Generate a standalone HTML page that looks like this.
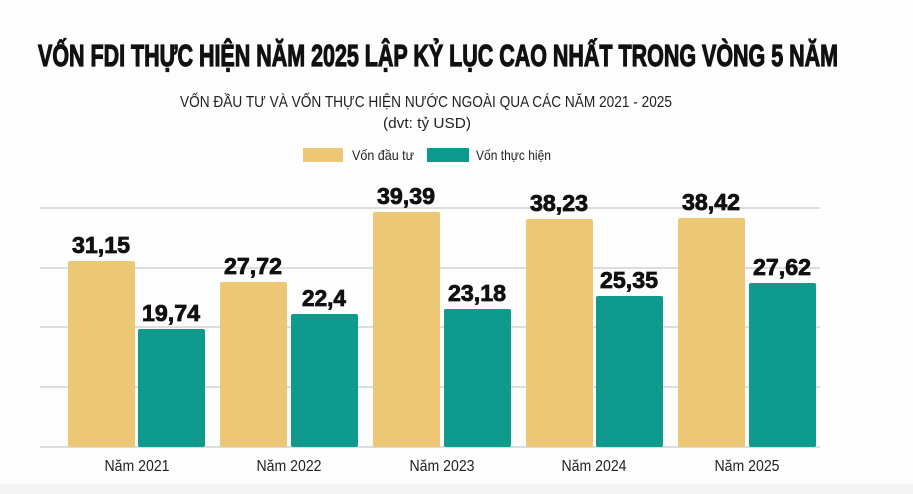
<!DOCTYPE html>
<html><head><meta charset="utf-8"><style>
html,body{margin:0;padding:0;background:#fff;}
svg{display:block;}
text{font-family:"Liberation Sans Narrow","Liberation Sans",sans-serif;}
</style></head><body>
<svg width="913" height="494" viewBox="0 0 913 494" xmlns="http://www.w3.org/2000/svg">
<rect width="913" height="494" fill="#fdfdfd"/>
<rect y="484" width="913" height="10" fill="#f4f4f4"/>
<text x="38" y="66" font-size="31" font-weight="bold" fill="#111" textLength="800" lengthAdjust="spacingAndGlyphs" stroke="#111" stroke-width="1.2">VỐN FDI THỰC HIỆN NĂM 2025 LẬP KỶ LỤC CAO NHẤT TRONG VÒNG 5 NĂM</text>
<text x="180" y="107" font-size="16" fill="#222" textLength="492" lengthAdjust="spacingAndGlyphs">VỐN ĐẦU TƯ VÀ VỐN THỰC HIỆN NƯỚC NGOÀI QUA CÁC NĂM 2021 - 2025</text>
<text x="383" y="128" font-size="15" fill="#222" textLength="88" lengthAdjust="spacingAndGlyphs">(dvt: tỷ USD)</text>
<rect x="303" y="148" width="40" height="14" fill="#ecc876"/>
<text x="352" y="160" font-size="14" fill="#222" textLength="62" lengthAdjust="spacingAndGlyphs">Vốn đầu tư</text>
<rect x="427" y="148" width="42" height="14" fill="#0f9a8e"/>
<text x="476" y="160" font-size="14" fill="#222" textLength="75" lengthAdjust="spacingAndGlyphs">Vốn thực hiện</text>
<g stroke="#cfd3d8" stroke-width="1.5">
<line x1="40" y1="208" x2="820" y2="208"/>
<line x1="40" y1="268" x2="820" y2="268"/>
<line x1="40" y1="327" x2="820" y2="327"/>
<line x1="40" y1="387" x2="820" y2="387"/>
<line x1="40" y1="447" x2="820" y2="447"/>
</g>
<g fill="#ecc876">
<rect x="68" y="261" width="67" height="186" rx="2"/>
<rect x="220" y="282" width="67" height="165" rx="2"/>
<rect x="373" y="212" width="67" height="235" rx="2"/>
<rect x="526" y="219" width="67" height="228" rx="2"/>
<rect x="678" y="218" width="67" height="229" rx="2"/>
</g>
<g fill="#0f9a8e">
<rect x="138" y="329" width="67" height="118" rx="2"/>
<rect x="291" y="314" width="67" height="133" rx="2"/>
<rect x="444" y="309" width="67" height="138" rx="2"/>
<rect x="596" y="296" width="67" height="151" rx="2"/>
<rect x="749" y="283" width="67" height="164" rx="2"/>
</g>
<g font-size="23" font-weight="bold" fill="#111" text-anchor="middle" stroke="#111" stroke-width="0.8" lengthAdjust="spacingAndGlyphs">
<text x="101" y="253" textLength="58" lengthAdjust="spacingAndGlyphs">31,15</text>
<text x="171" y="321" textLength="58" lengthAdjust="spacingAndGlyphs">19,74</text>
<text x="253" y="274" textLength="58" lengthAdjust="spacingAndGlyphs">27,72</text>
<text x="324" y="306" textLength="44" lengthAdjust="spacingAndGlyphs">22,4</text>
<text x="406" y="204" textLength="58" lengthAdjust="spacingAndGlyphs">39,39</text>
<text x="477" y="301" textLength="58" lengthAdjust="spacingAndGlyphs">23,18</text>
<text x="559" y="211" textLength="58" lengthAdjust="spacingAndGlyphs">38,23</text>
<text x="629" y="288" textLength="58" lengthAdjust="spacingAndGlyphs">25,35</text>
<text x="711" y="210" textLength="58" lengthAdjust="spacingAndGlyphs">38,42</text>
<text x="782" y="275" textLength="58" lengthAdjust="spacingAndGlyphs">27,62</text>
</g>
<g font-size="16" fill="#222" text-anchor="middle">
<text x="137" y="471" textLength="65" lengthAdjust="spacingAndGlyphs">Năm 2021</text>
<text x="289" y="471" textLength="65" lengthAdjust="spacingAndGlyphs">Năm 2022</text>
<text x="442" y="471" textLength="65" lengthAdjust="spacingAndGlyphs">Năm 2023</text>
<text x="594" y="471" textLength="65" lengthAdjust="spacingAndGlyphs">Năm 2024</text>
<text x="747" y="471" textLength="65" lengthAdjust="spacingAndGlyphs">Năm 2025</text>
</g>
</svg>
</body></html>
